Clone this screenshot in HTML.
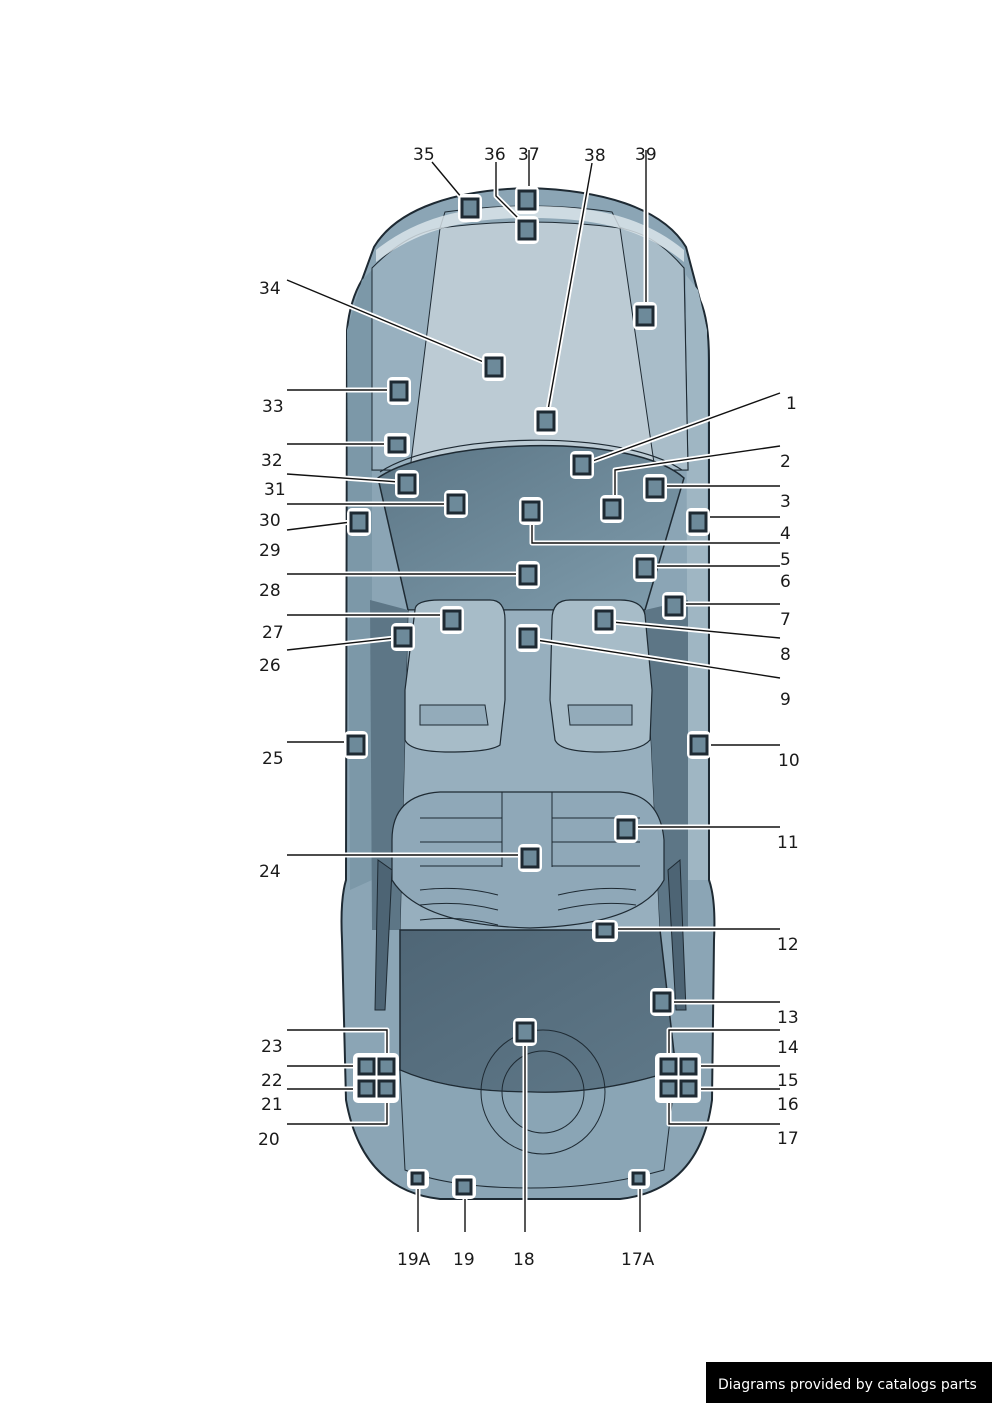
<!DOCTYPE html>
<html><head><meta charset="utf-8"><style>
html,body{margin:0;padding:0;background:#fff}
svg{display:block}
text{font-family:"DejaVu Sans","Liberation Sans",sans-serif;font-size:17px;fill:#1a1a1a}
</style></head><body>
<svg width="992" height="1403" viewBox="0 0 992 1403" xmlns="http://www.w3.org/2000/svg">
<defs>
<linearGradient id="ws" x1="0" y1="0" x2="1" y2="1"><stop offset="0" stop-color="#5c7686"/><stop offset="1" stop-color="#7f9cac"/></linearGradient>
<linearGradient id="rw" x1="0" y1="0" x2="1" y2="1"><stop offset="0" stop-color="#4f6676"/><stop offset="1" stop-color="#5f7888"/></linearGradient>
</defs>
<path d="M528 188 C600 190 662 207 686 247 L700 300 Q709 320 709 360 L709 880 Q716 900 714 940 L712 1100 Q700 1190 620 1199 L440 1199 Q362 1190 346 1100 L342 940 Q340 900 346 880 L347 330 Q350 300 362 280 L374 247 C398 207 458 190 528 188 Z" fill="#8ba5b5" stroke="#1e2a33" stroke-width="2"/>
<path d="M362 280 L372 270 L372 880 L350 890 L347 330 Z" fill="#7c98a8"/>
<path d="M686 275 L698 290 L707 330 L708 880 L688 880 Z" fill="#9fb6c3"/>
<path d="M380 268 C420 228 470 214 528 214 C590 214 640 225 684 268 L688 470 L372 470 Z" fill="#bccbd4" stroke="#1e2a33" stroke-width="1.2"/>
<path d="M445 212 C500 204 560 204 612 212 L620 228 C560 220 500 220 440 228 Z" fill="#8ea7b6" stroke="#1e2a33" stroke-width="1"/>
<path d="M372 268 C400 240 420 232 440 228 L410 470 L372 470 Z" fill="#98b0bf" stroke="#1e2a33" stroke-width="1"/>
<path d="M684 268 C660 240 640 232 620 228 L655 470 L688 470 Z" fill="#a9bdc9" stroke="#1e2a33" stroke-width="1"/>
<path d="M376 250 C420 215 470 206 528 206 C590 206 640 214 684 250 L684 262 C640 226 590 218 528 218 C470 218 420 228 376 262 Z" fill="#dfe8ed" opacity="0.8"/>
<path d="M378 478 C430 440 630 430 684 478 L645 610 L408 610 Z" fill="url(#ws)" stroke="#1e2a33" stroke-width="1.5"/>
<path d="M380 472 C440 432 620 428 682 470" fill="none" stroke="#1e2a33" stroke-width="1.2"/>
<path d="M408 610 L645 610 L660 930 L400 930 Z" fill="#97afbe" stroke="#1e2a33" stroke-width="1"/>
<path d="M370 600 L408 610 L400 930 L372 930 Z" fill="#5d7686"/>
<path d="M645 610 L688 600 L688 930 L660 930 Z" fill="#5d7686"/>
<path d="M415 610 Q415 600 440 600 L490 600 Q505 600 505 620 L505 700 L500 745 Q490 752 450 752 Q410 752 405 740 L405 690 Z" fill="#a7bcc8" stroke="#1e2a33" stroke-width="1.2"/>
<path d="M420 705 L485 705 L488 725 L420 725 Z" fill="#93abba" stroke="#1e2a33" stroke-width="1"/>
<path d="M552 620 Q552 600 570 600 L620 600 Q642 600 645 615 L652 690 L650 740 Q640 752 600 752 Q560 752 555 740 L550 700 Z" fill="#a7bcc8" stroke="#1e2a33" stroke-width="1.2"/>
<path d="M568 705 L632 705 L632 725 L570 725 Z" fill="#93abba" stroke="#1e2a33" stroke-width="1"/>
<path d="M392 840 Q392 795 440 792 L620 792 Q660 795 664 840 L664 880 Q640 925 530 928 Q420 925 392 880 Z" fill="#8fa8b8" stroke="#1e2a33" stroke-width="1.2"/>
<line x1="502" y1="792" x2="502" y2="867" stroke="#1e2a33"/><line x1="552" y1="792" x2="552" y2="867" stroke="#1e2a33"/>
<line x1="420" y1="818" x2="502" y2="818" stroke="#1e2a33"/><line x1="420" y1="842" x2="502" y2="842" stroke="#1e2a33"/><line x1="420" y1="866" x2="502" y2="866" stroke="#1e2a33"/>
<line x1="552" y1="818" x2="640" y2="818" stroke="#1e2a33"/><line x1="552" y1="842" x2="640" y2="842" stroke="#1e2a33"/><line x1="552" y1="866" x2="640" y2="866" stroke="#1e2a33"/>
<path d="M420 890 Q460 885 498 895 M420 905 Q460 900 498 910 M420 920 Q460 915 498 925 M558 895 Q600 885 636 890 M558 910 Q600 900 636 905" fill="none" stroke="#1e2a33"/>
<path d="M378 860 L392 870 L385 1010 L375 1010 Z" fill="#4d6474" stroke="#1e2a33"/>
<path d="M680 860 L668 870 L676 1010 L686 1010 Z" fill="#4d6474" stroke="#1e2a33"/>
<path d="M400 930 L660 930 L676 1070 Q600 1095 530 1092 Q450 1092 400 1070 Z" fill="url(#rw)" stroke="#1e2a33" stroke-width="1.5"/>
<path d="M400 1070 Q450 1092 530 1092 Q600 1095 676 1070 L664 1170 Q600 1188 530 1188 Q450 1188 405 1170 Z" fill="#8aa5b5" stroke="#1e2a33" stroke-width="1"/>
<circle cx="543" cy="1092" r="62" fill="none" stroke="#1e2a33" stroke-width="1"/>
<circle cx="543" cy="1092" r="41" fill="none" stroke="#1e2a33" stroke-width="1"/>
<g stroke="#fff" stroke-width="5" fill="none" stroke-linejoin="round">
<path d="M432 162 L462 198 M496 162 L496 196 L520 220 M529 162 L529 192 M592 163 L548 410 M646 162 L646 308 M287 280 L486 363 M287 390 L391 390 M287 444 L389 444 M287 474 L399 482 M287 504 L448 504 M287 530 L351 522 M287 574 L520 574 M287 615 L444 615 M287 650 L395 638 M287 742 L348 742 M287 855 L522 855 M287 1030 L387 1030 L387 1060 M287 1066 L359 1066 M287 1089 L359 1089 M287 1124 L387 1124 L387 1096 M418 1232 L418 1184 M465 1232 L465 1194 M525 1232 L525 1040 M640 1232 L640 1184 M780 393 L590 462 M780 446 L615 470 L615 500 M780 486 L663 486 M780 517 L706 517 M780 543 L532 543 L532 519 M780 566 L653 566 M780 604 L682 604 M780 638 L612 622 M780 678 L536 640 M780 745 L707 745 M780 827 L634 827 M780 929 L613 929 M780 1002 L670 1002 M780 1030 L669 1030 L669 1060 M780 1066 L696 1066 M780 1089 L696 1089 M780 1124 L669 1124 L669 1096"/>
</g>
<g stroke="#111" stroke-width="1.4" fill="none">
<path d="M432 162 L462 198 M496 162 L496 196 L520 220 M529 150 L529 192 M592 163 L548 410 M646 150 L646 308 M287 280 L486 363 M287 390 L391 390 M287 444 L389 444 M287 474 L399 482 M287 504 L448 504 M287 530 L351 522 M287 574 L520 574 M287 615 L444 615 M287 650 L395 638 M287 742 L348 742 M287 855 L522 855 M287 1030 L387 1030 L387 1060 M287 1066 L359 1066 M287 1089 L359 1089 M287 1124 L387 1124 L387 1096 M418 1232 L418 1184 M465 1232 L465 1194 M525 1232 L525 1040 M640 1232 L640 1184 M780 393 L590 462 M780 446 L615 470 L615 500 M780 486 L663 486 M780 517 L706 517 M780 543 L532 543 L532 519 M780 566 L653 566 M780 604 L682 604 M780 638 L612 622 M780 678 L536 640 M780 745 L707 745 M780 827 L634 827 M780 929 L613 929 M780 1002 L670 1002 M780 1030 L669 1030 L669 1060 M780 1066 L696 1066 M780 1089 L696 1089 M780 1124 L669 1124 L669 1096"/>
</g>
<g fill="#fff">
<rect x="458" y="194" width="24" height="28" rx="5"/><rect x="515" y="186" width="24" height="28" rx="5"/><rect x="515" y="216" width="24" height="28" rx="5"/>
<rect x="633" y="302" width="24" height="28" rx="5"/><rect x="482" y="353" width="24" height="28" rx="5"/><rect x="534" y="407" width="24" height="28" rx="5"/>
<rect x="387" y="377" width="24" height="28" rx="5"/><rect x="384" y="433" width="26" height="24" rx="5"/><rect x="395" y="470" width="24" height="28" rx="5"/>
<rect x="444" y="490" width="24" height="28" rx="5"/><rect x="347" y="508" width="24" height="28" rx="5"/><rect x="516" y="561" width="24" height="28" rx="5"/>
<rect x="440" y="606" width="24" height="28" rx="5"/><rect x="391" y="623" width="24" height="28" rx="5"/><rect x="344" y="731" width="24" height="28" rx="5"/>
<rect x="518" y="844" width="24" height="28" rx="5"/><rect x="513" y="1018" width="24" height="28" rx="5"/>
<rect x="570" y="451" width="24" height="28" rx="5"/><rect x="600" y="495" width="24" height="28" rx="5"/><rect x="643" y="474" width="24" height="28" rx="5"/>
<rect x="686" y="508" width="24" height="28" rx="5"/><rect x="519" y="497" width="24" height="28" rx="5"/><rect x="633" y="554" width="24" height="28" rx="5"/>
<rect x="662" y="592" width="24" height="28" rx="5"/><rect x="592" y="606" width="24" height="28" rx="5"/><rect x="516" y="624" width="24" height="28" rx="5"/>
<rect x="687" y="731" width="24" height="28" rx="5"/><rect x="614" y="815" width="24" height="28" rx="5"/><rect x="592" y="920" width="26" height="22" rx="5"/>
<rect x="650" y="988" width="24" height="28" rx="5"/>
<rect x="353" y="1053" width="46" height="50" rx="5"/><rect x="655" y="1053" width="46" height="50" rx="5"/>
<rect x="407" y="1169" width="22" height="20" rx="5"/><rect x="452" y="1175" width="24" height="24" rx="5"/><rect x="628" y="1169" width="22" height="20" rx="5"/>
</g>
<g stroke="#1e2a33" stroke-width="3" fill="#6d8a9a">
<rect x="462" y="199" width="16" height="18"/><rect x="519" y="191" width="16" height="18"/><rect x="519" y="221" width="16" height="18"/>
<rect x="637" y="307" width="16" height="18"/><rect x="486" y="358" width="16" height="18"/><rect x="538" y="412" width="16" height="18"/>
<rect x="391" y="382" width="16" height="18"/><rect x="389" y="438" width="16" height="14"/><rect x="399" y="475" width="16" height="18"/>
<rect x="448" y="495" width="16" height="18"/><rect x="351" y="513" width="16" height="18"/><rect x="520" y="566" width="16" height="18"/>
<rect x="444" y="611" width="16" height="18"/><rect x="395" y="628" width="16" height="18"/><rect x="348" y="736" width="16" height="18"/>
<rect x="522" y="849" width="16" height="18"/><rect x="517" y="1023" width="16" height="18"/>
<rect x="574" y="456" width="16" height="18"/><rect x="604" y="500" width="16" height="18"/><rect x="647" y="479" width="16" height="18"/>
<rect x="690" y="513" width="16" height="18"/><rect x="523" y="502" width="16" height="18"/><rect x="637" y="559" width="16" height="18"/>
<rect x="666" y="597" width="16" height="18"/><rect x="596" y="611" width="16" height="18"/><rect x="520" y="629" width="16" height="18"/>
<rect x="691" y="736" width="16" height="18"/><rect x="618" y="820" width="16" height="18"/><rect x="597" y="924" width="16" height="13"/>
<rect x="654" y="993" width="16" height="18"/>
<rect x="359" y="1059" width="15" height="15"/><rect x="379" y="1059" width="15" height="15"/><rect x="359" y="1081" width="15" height="15"/><rect x="379" y="1081" width="15" height="15"/>
<rect x="661" y="1059" width="15" height="15"/><rect x="681" y="1059" width="15" height="15"/><rect x="661" y="1081" width="15" height="15"/><rect x="681" y="1081" width="15" height="15"/>
<rect x="412" y="1173" width="11" height="11"/><rect x="457" y="1180" width="14" height="14"/><rect x="633" y="1173" width="11" height="11"/>
</g>
<g>
<text x="413" y="160">35</text><text x="484" y="160">36</text><text x="518" y="160">37</text><text x="584" y="161">38</text><text x="635" y="160">39</text>
<text x="259" y="294">34</text><text x="262" y="412">33</text><text x="261" y="466">32</text><text x="264" y="495">31</text><text x="259" y="526">30</text>
<text x="259" y="556">29</text><text x="259" y="596">28</text><text x="262" y="638">27</text><text x="259" y="671">26</text><text x="262" y="764">25</text>
<text x="259" y="877">24</text><text x="261" y="1052">23</text><text x="261" y="1086">22</text><text x="261" y="1110">21</text><text x="258" y="1145">20</text>
<text x="397" y="1265">19A</text><text x="453" y="1265">19</text><text x="513" y="1265">18</text><text x="621" y="1265">17A</text>
<text x="786" y="409">1</text><text x="780" y="467">2</text><text x="780" y="507">3</text><text x="780" y="539">4</text><text x="780" y="565">5</text>
<text x="780" y="587">6</text><text x="780" y="625">7</text><text x="780" y="660">8</text><text x="780" y="705">9</text><text x="778" y="766">10</text>
<text x="777" y="848">11</text><text x="777" y="950">12</text><text x="777" y="1023">13</text><text x="777" y="1053">14</text><text x="777" y="1086">15</text>
<text x="777" y="1110">16</text><text x="777" y="1144">17</text>
</g>
<rect x="706" y="1362" width="286" height="41" fill="#000"/>
<text x="718" y="1389" style="font-size:14px;fill:#fff">Diagrams provided by catalogs parts</text>
</svg>
</body></html>
